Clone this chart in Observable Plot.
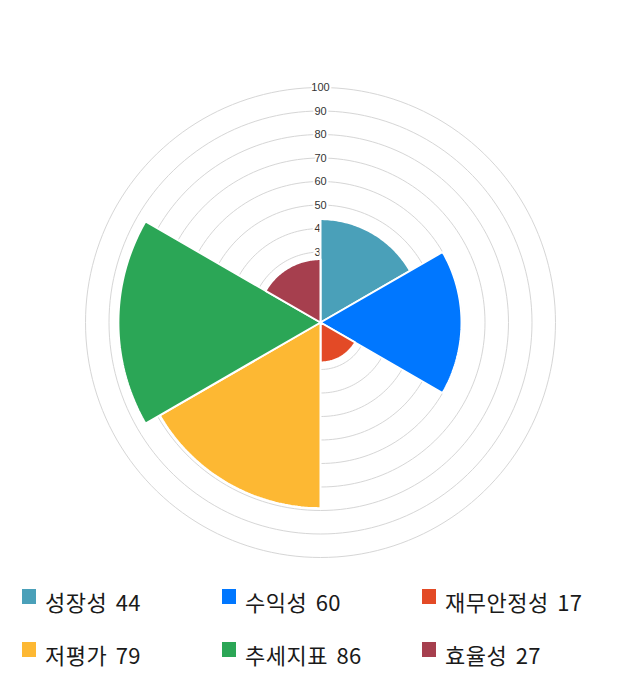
<!DOCTYPE html>
<html><head><meta charset="utf-8">
<script src="https://cdn.jsdelivr.net/npm/d3@7"></script>
<script src="https://cdn.jsdelivr.net/npm/@observablehq/plot@0.6"></script>
<style>
body{margin:0;background:#fff;font-family:"Noto Sans CJK KR","Noto Sans",sans-serif;}
#chart{position:absolute;left:0;top:0;}
.legend{position:absolute;left:0;top:585px;width:640px;}
.item{position:absolute;display:flex;align-items:center;font-size:22px;color:#1a1a1a;letter-spacing:0.5px;word-spacing:3px;}
.sw{width:14px;height:15px;margin-right:9px;position:relative;top:-5px;}
</style></head>
<body>
<div id="chart"></div>
<div class="legend" id="legend"></div>
<script>
const categories = ["성장성","수익성","재무안정성","저평가","추세지표","효율성"];
const values = [44,60,17,79,86,27];
const colors = ["#4aa0b9","#0077ff","#e34a26","#fdb833","#2ba656","#a63f4e"];
const ringTicks = [10,20,30,40,50,60,70,80,90,100];

const step = 360 / categories.length;
const toXY = (r, deg) => { const a = deg * Math.PI / 180; return [r * Math.sin(a), r * Math.cos(a)]; };

// rings
const rings = [];
for (const t of ringTicks) for (let d = 0; d < 360; d += 2) { const [x,y] = toXY(t, d); rings.push({t,x,y}); }
// sectors
const sectors = [];
categories.forEach((c,i) => {
  sectors.push({c, x:0, y:0});
  for (let d = i*step; d <= (i+1)*step + 1e-9; d += 1) { const [x,y] = toXY(values[i], d); sectors.push({c,x,y}); }
});
const labels = ringTicks.map(t => ({t, x:0, y:t}));

const plot = Plot.plot({
  width: 640, height: 570,
  marginLeft: 85, marginRight: 85, marginTop: 87, marginBottom: 13,
  x: {domain:[-100,100], axis:null},
  y: {domain:[-100,100], axis:null},
  color: {domain: categories, range: colors},
  marks: [
    Plot.line(rings, {x:"x", y:"y", z:"t", curve:"linear-closed", stroke:"#d6d6d6", strokeWidth:1}),
    Plot.text(labels, {x:"x", y:"y", text: d => String(d.t), fill:"#333", stroke:"white", strokeWidth:4, fontSize:11, fontFamily:"Liberation Sans, Arial, sans-serif"}),
    Plot.line(sectors, {x:"x", y:"y", z:"c", fill:"c", stroke:"white", strokeWidth:2, curve:"linear-closed", strokeLinejoin:"miter"})
  ]
});
document.getElementById("chart").appendChild(plot);

const lg = document.getElementById("legend");
categories.forEach((c,i) => {
  const col = i % 3, row = Math.floor(i/3);
  const el = document.createElement("div");
  el.className = "item";
  el.style.left = (22 + col*200) + "px";
  el.style.top = (row*53) + "px";
  el.innerHTML = `<span class="sw" style="background:${colors[i]}"></span><span>${c} ${values[i]}</span>`;
  lg.appendChild(el);
});
</script>
</body></html>
